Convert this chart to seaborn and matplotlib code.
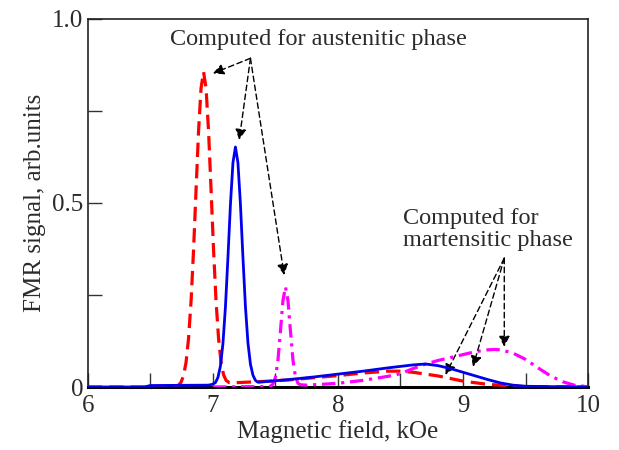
import numpy as np
import pandas as pd
import matplotlib
matplotlib.use("Agg")
import matplotlib.pyplot as plt
import seaborn as sns

# curves (field in kOe, signal in arb. units)
red_x = [6.0, 6.3, 6.6, 6.705, 6.725, 6.745, 6.765, 6.785, 6.805, 6.825, 6.845, 6.865, 6.885,
         6.905, 6.925, 6.945, 6.965, 6.985, 7.005, 7.025, 7.045, 7.065, 7.085, 7.105, 7.13, 7.17,
         7.2, 7.4, 7.6, 7.8, 8.0, 8.2, 8.4, 8.5, 8.6, 8.8, 9.0, 9.2, 9.4, 9.5, 10.0]
red_y = [0.0, 0.0, 0.0, 0.002, 0.005, 0.013, 0.031, 0.067, 0.132, 0.233, 0.372, 0.536, 0.695,
         0.812, 0.856, 0.812, 0.695, 0.536, 0.372, 0.233, 0.132, 0.067, 0.033, 0.018, 0.012, 0.011,
         0.012, 0.015, 0.019, 0.025, 0.031, 0.038, 0.043, 0.043, 0.040, 0.030, 0.016, 0.007, 0.003, 0.001, 0.0]

blue_x = [6.0, 6.45, 6.5, 6.96, 6.98, 7.00, 7.02, 7.04, 7.06, 7.08, 7.10, 7.12, 7.14, 7.16, 7.18,
          7.20, 7.22, 7.24, 7.26, 7.28, 7.30, 7.32, 7.34, 7.36, 7.4, 7.5, 7.6, 7.8, 8.0, 8.2, 8.4,
          8.5, 8.6, 8.7, 8.8, 8.9, 9.0, 9.1, 9.2, 9.3, 9.4, 9.5, 9.7, 10.0]
blue_y = [0.0, 0.0, 0.004, 0.005, 0.006, 0.008, 0.012, 0.026, 0.057, 0.118, 0.218, 0.352, 0.496, 0.609, 0.652,
          0.609, 0.496, 0.352, 0.218, 0.120, 0.062, 0.032, 0.018, 0.013, 0.014, 0.017, 0.020, 0.027, 0.035, 0.043, 0.052,
          0.056, 0.060, 0.0625, 0.058, 0.050, 0.040, 0.030, 0.020, 0.011, 0.005, 0.002, 0.001, 0.0]

mag_x = [7.0, 7.3, 7.44, 7.46, 7.48, 7.50, 7.52, 7.54, 7.56, 7.58, 7.60, 7.62, 7.64, 7.66,
         7.68, 7.70, 7.75, 7.8, 8.0, 8.2, 8.4, 8.5, 8.6, 8.7, 8.8, 8.9, 9.0, 9.1, 9.2, 9.25,
         9.3, 9.4, 9.5, 9.6, 9.7, 9.8, 9.9, 10.0]
mag_y = [0.0, 0.001, 0.001, 0.002, 0.008, 0.026, 0.073, 0.152, 0.235, 0.272, 0.235, 0.152, 0.073, 0.028,
         0.010, 0.006, 0.005, 0.006, 0.010, 0.018, 0.029, 0.036, 0.050, 0.062, 0.072, 0.080, 0.088, 0.096, 0.101, 0.102,
         0.101, 0.092, 0.075, 0.052, 0.030, 0.014, 0.004, 0.001]

austenite_text = "Computed for austenitic phase"
austenite_from = (7.30, 0.893)
austenite_tips = [(7.00, 0.852), (7.21, 0.671), (7.57, 0.304)]

martensite_text = "Computed for\nmartensitic phase"
martensite_from = (9.33, 0.35)
martensite_tips = [(8.86, 0.033), (9.08, 0.055), (9.33, 0.109)]

sns.set_style("ticks")
plt.rcParams['font.family'] = ['Liberation Serif', 'DejaVu Serif']
plt.rcParams['xtick.direction'] = 'in'
plt.rcParams['ytick.direction'] = 'in'
txt_col = '#2b2b2b'

fig = plt.figure(figsize=(6.19, 4.5), dpi=100)
ax = fig.add_axes([0.142, 0.14, 0.808, 0.818])

sns.lineplot(x=red_x, y=red_y, ax=ax, color='#ff0000', lw=2.3,
             linestyle=(0, (4.5, 2.2)), errorbar=None, zorder=3)
sns.lineplot(x=blue_x, y=blue_y, ax=ax, color='#0000ee', lw=2.0,
             errorbar=None, zorder=4)
sns.lineplot(x=mag_x, y=mag_y, ax=ax, color='#ff00ff', lw=2.3,
             linestyle=(0, (4.2, 1.8, 1.0, 1.8)), errorbar=None, zorder=3)

ax.set_xlim(6, 10)
ax.set_ylim(0, 1.0)
ax.set_xticks([6, 7, 8, 9, 10])
ax.set_xticks([6.5, 7.5, 8.5, 9.5], minor=True)
ax.set_yticks([0, 0.5, 1.0])
ax.set_yticklabels(['0', '0.5', '1.0'])
ax.set_yticks([0.25, 0.75], minor=True)
ax.tick_params(which='both', length=10, width=1, color='#333333',
               labelsize=18, labelcolor=txt_col, top=False, right=False)
ax.tick_params(axis='x', pad=6)
for s in ax.spines.values():
    s.set_linewidth(1.2)
    s.set_color('#222222')
ax.spines['bottom'].set_linewidth(2.2)
ax.spines['bottom'].set_color('black')

ax.set_xlabel("Magnetic field, kOe", fontsize=18, color=txt_col, labelpad=2)
ax.set_ylabel("FMR signal, arb.units", fontsize=18, color=txt_col, labelpad=4)

# annotation arrows
arrow_kw = dict(arrowstyle='-|>', color='black', lw=1.0, linestyle=(0, (4, 2.5)),
                mutation_scale=16, shrinkA=0, shrinkB=0)
for tip in austenite_tips:
    ax.annotate("", xy=tip, xytext=austenite_from, arrowprops=arrow_kw)
for tip in martensite_tips:
    ax.annotate("", xy=tip, xytext=martensite_from, arrowprops=arrow_kw)

ax.text(6.655, 0.945, austenite_text, fontsize=17.5, color=txt_col, va='center', ha='left')
ax.text(8.52, 0.427, martensite_text, fontsize=17.5, color=txt_col, va='center', ha='left',
        linespacing=1.05)

fig.savefig("out.png", dpi=100)
